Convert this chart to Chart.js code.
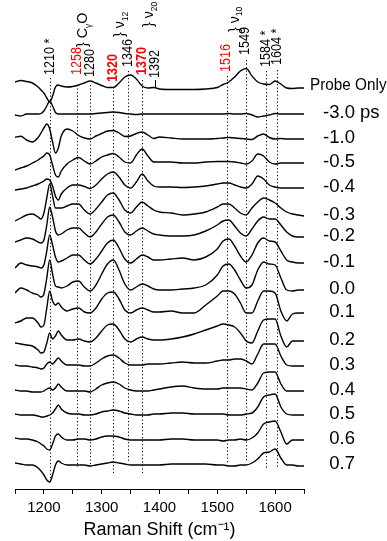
<!DOCTYPE html>
<html>
<head>
<meta charset="utf-8">
<script src="https://cdn.jsdelivr.net/npm/chart.js@4.4.1/dist/chart.umd.min.js"></script>
<style>
  html, body { margin: 0; padding: 0; background: #fff; }
  canvas { display: block; }
</style>
</head>
<body>
<canvas id="ramanChart" width="387" height="541"></canvas>
<script>
// Raman shift grid (cm-1)
const wavenumbers = [1150,1160,1170,1180,1190,1195,1200,1205,1210,1215,1220,1225,1230,
  1240,1250,1260,1270,1280,1290,1300,1310,1320,1330,1340,1350,1360,1370,1380,1390,1400,
  1420,1440,1460,1480,1500,
  1510,1520,1530,1540,1550,1560,1570,1580,1590,1600,1610,1620,1630,1640,1650];

// intensities (arb. units)
const probeOnly = [6,7.5,6.5,5,1,-2,-5,-10,-14,-8,1,3,2, 1,1.5,3,5,7,5,2.5,0.5,0.5,5,11,13,9,2,0,0.5,-1, -1.5,-1.5,-1.5,-1,0.5, 3.5,6,11,17,19.5,12,6,4,3.5,7,4,0,-0.5,0,0];
const d_m3_0 = [-1,-2,0,0,0,0.5,3,8,13,8,1.5,0,0, 0,0,0,0,0,0.5,1,1.5,2,1.5,0.5,0,-0.5,0,0,0,0, 0,0,0,0,0, 0,0.5,0,0,0.5,-1,-3,-2,-1,0.5,0,0,0,0,0];
const d_m1_0 = [1.7,2.7,-1,-3,1.5,6,11,15,10,-3,-14,-9,3, 10,8,3.5,1,0,3,5.5,8,8.5,6,2.5,3,5.5,7,4,0.5,2, 1,0,0,0,0.5, 1,1.5,1,0.5,0,-0.5,3,5,1.5,0,0.5,0,0,0,0];
const d_m0_5 = [-7,-5,-3,0,3,5,7,10,8,-2,-12,-14,-8, -1,3,5.5,2,-1,2,6,8,9.5,6,1,0,8,14,7,1,1, 1,0,0,1,1.5, 1.5,1.5,1,0,-1,2,9,7,1,-1,0,0,0,0,0];
const d_m0_4 = [-2,-1,0,2,4,5.5,7,9,8,2,-8,-12,-6, 0,3,3,1.5,-0.5,3,9,14,16,11,3,0,6,14,7,2,1, 1,0.5,1,2,4, 5,5,3,1,0,4,12,9,3,1,0,0,0,0,0];
const d_m0_3 = [-5,-2,1,2,-1,-3,3,18,32,20,8,8,8, 10,12,12,6,2,7,14,21,23,16,6,3,9,14,10,6,4, 3,1,2,4,9, 12,12,8,3,1,8,14,18,16,13,8,4,2,1,0];
const d_m0_2 = [-5,-3,-1,-2,-5,-6,-3,12,30,20,6,2,3, 7,9,9,4,0,5,13,20,22,15,5,2,6,9,6,3,2, 1,1,2,6,12, 16,17,11,4,1,8,16,20,18,18,12,5,1,0,0];
const d_m0_1 = [-5,0,-2,-3,-4,-5,-2,12,28,18,6,1,2, 5,8,8,3,-1,4,12,20,23,15,4,0,4,8,6,3,3, 4,5,3,6,14, 22,24,17,7,1,8,20,25,22,21,12,3,1,0,0];
const d_0_0 = [-3,2,0,-3,-5,-7,-4,12,30,16,4,3,2, 4,8,9,3,-1,5,16,26,30,20,6,0,3,6,4,1,0, 0,1,2,5,15, 24,26,20,10,2,5,20,28,26,25,12,0,-1,0,0];
const d_0_1 = [-10,-8,-5,-5,-10,-14,-12,5,22,12,8,10,6, 2,4,5,1,0,5,14,20,21,14,3,0,3,5,3,1,1, 2,0,0,8,17, 22,22,19,10,0,0,12,22,22,20,2,-8,-1,0,0];
const d_0_2 = [-2,-3,-4,-5,-9,-12,-11,-2,8,2,5,10,6, 1,1,2,0,-1,3,10,16,17,11,2,-1,2,4,2,1,1, 2,4,7,11,15, 17,16,14,8,0,-2,10,21,22,22,5,-6,0,0,0];
const d_0_3 = [1,0,0,-1,-2,-3,-2,2,4,2,5,8,5, 1,1,1,0,0,3,7,10,11,8,3,1,1,1,2,2,2, 3,4,3,3,5, 6,6,7,7,5,2,12,22,22,22,10,1,0,0,0];
const d_0_4 = [1,0,0,-1,-1,-1,0,2,3,1,3,7,4, 0,0,0,0,-1,2,6,8,9,7,3,1,0,0,0,1,2, 4,5,3,2,2, 3,3,3,3,2,1,8,18,19,19,7,0,0,0,0];
const d_0_5 = [1,0,0,0,-1,-2,-2,-1,0,2,6,10,6, 2,1,1,0,0,1,3,4,5,4,2,1,0,0,0,1,1, 2,2,1,1,1, 1,0,0,0,1,2,8,18,20,21,8,1,0,0,0];
const d_0_6 = [2,1,1,0,-2,-4,-6,-9,-10,-4,4,6,3, 0,0,1,1,0,1,3,4,4,3,1,0,0,0,0,0,0, 1,1,0,0,0, -1,0,0,1,0,2,7,16,18,19,8,-4,0,0,0];
const d_0_7 = [2,1,0,0,-3,-6,-10,-15,-17,-10,0,4,2, 0,0,0,0,-1,0,1,2,3,2,1,0,0,0,0,0,0, 1,1,1,1,0, 0,-1,-1,0,0,2,6,12,13,16,7,0,0,-1,-1];

const spectra = [probeOnly, d_m3_0, d_m1_0, d_m0_5, d_m0_4, d_m0_3, d_m0_2, d_m0_1,
  d_0_0, d_0_1, d_0_2, d_0_3, d_0_4, d_0_5, d_0_6, d_0_7];
const delayLabels = ['Probe Only','-3.0','-1.0','-0.5','-0.4','-0.3','-0.2','-0.1',
  '0.0','0.1','0.2','0.3','0.4','0.5','0.6','0.7'];
// vertical stacking offset of each trace
const offsets = [401,375,350,326,301,273,252,226,199,176,148,123,98,74,49,24];

// band markers
const bandPositions = [1210,1258,1280,1320,1346,1370,1392,1516,1549,1584,1604];
const bandLabels = ['1210 *','1258','1280','1320','1346','1370','1392','1516','1549','1584 *','1604 *'];
const bandRed = [false,true,false,true,false,true,false,true,false,false,false];
const bandBold = [false,false,false,true,false,true,false,false,false,false,false];

const FONT = 'Liberation Sans, Arial, sans-serif';

// where the rotated labels start and the dotted guides run (pixels)
const bandLayout = [
  {base: 75, top: 78, bot: 478},
  {base: 75, top: 85, bot: 467},
  {base: 77, top: 85, bot: 467},
  {base: 82, top: 87, bot: 473},
  {base: 67, top: 71, bot: 462},
  {base: 75, top: 80, bot: 473},
  {base: 78, tick: [80, 88]},
  {base: 72, top: 76, bot: 463},
  {base: 55, top: 60, bot: 462},
  {base: 67, top: 71, bot: 468},
  {base: 65, top: 70, bot: 467}
];

const groups = [
  {at: 1268, base: 47, name: 'C', sub: 'γ', tail: 'O'},
  {at: 1332, base: 37, name: 'ν', sub: '12', tail: ''},
  {at: 1382, base: 27, name: 'ν', sub: '20', tail: ''},
  {at: 1530, base: 32, name: 'ν', sub: '10', tail: ''}
];

function upText(ctx, parts, px, yBottom, sx) {
  ctx.save();
  ctx.translate(px, yBottom);
  ctx.rotate(-Math.PI / 2);
  ctx.scale(sx, 1);
  ctx.textAlign = 'left';
  ctx.textBaseline = 'middle';
  let cx = 0;
  parts.forEach(p => {
    ctx.font = p.font;
    ctx.fillStyle = p.color || '#000';
    ctx.fillText(p.t, cx, p.dy || 0);
    cx += ctx.measureText(p.t).width;
  });
  ctx.restore();
}

const annotate = {
  id: 'annotate',
  beforeDatasetsDraw(chart) {
    const ctx = chart.ctx, x = chart.scales.x;
    ctx.save();
    ctx.strokeStyle = '#000';
    ctx.lineWidth = 1;
    bandPositions.forEach((b, i) => {
      const L = bandLayout[i];
      const px = Math.round(x.getPixelForValue(b)) + 0.5;
      ctx.beginPath();
      if (L.tick) {
        ctx.setLineDash([]);
        ctx.moveTo(px, L.tick[0]); ctx.lineTo(px, L.tick[1]);
      } else {
        ctx.setLineDash([1.2, 2.3]);
        ctx.moveTo(px, L.top); ctx.lineTo(px, L.bot);
      }
      ctx.stroke();
    });
    ctx.restore();
  },
  afterDraw(chart) {
    const ctx = chart.ctx, x = chart.scales.x, y = chart.scales.y;
    // band numbers
    bandPositions.forEach((b, i) => {
      const f = (bandBold[i] ? 'bold ' : '') + '14px ' + FONT;
      upText(ctx, [{t: bandLabels[i], font: f, color: bandRed[i] ? '#ff0000' : '#000'}],
        x.getPixelForValue(b), bandLayout[i].base, 0.9);
    });
    // braces with mode names
    groups.forEach(g => {
      const parts = [
        {t: '} ', font: '15px ' + FONT},
        {t: g.name, font: '15px ' + FONT},
        {t: g.sub, font: '9px ' + FONT, dy: 5}
      ];
      if (g.tail) parts.push({t: g.tail, font: '15px ' + FONT});
      upText(ctx, parts, x.getPixelForValue(g.at), g.base, 0.95);
    });
    // delay labels
    ctx.save();
    ctx.fillStyle = '#000';
    ctx.textBaseline = 'middle';
    delayLabels.forEach((lab, i) => {
      const py = y.getPixelForValue(offsets[i]) - 1;
      if (i === 0) {
        ctx.save();
        ctx.font = '17px ' + FONT;
        ctx.translate(310, py - 2);
        ctx.scale(0.9, 1);
        ctx.textAlign = 'left';
        ctx.fillText(lab, 0, 0);
        ctx.restore();
        return;
      }
      ctx.font = '18.5px ' + FONT;
      ctx.textAlign = 'right';
      ctx.fillText(lab, 355, py);
      if (i === 1) {
        ctx.textAlign = 'left';
        ctx.fillText('ps', 360, py);
      }
    });
    ctx.restore();
  }
};

const datasets = spectra.map((vals, i) => ({
  label: delayLabels[i],
  data: wavenumbers.map((w, j) => ({x: w, y: vals[j] + offsets[i]})),
  borderColor: '#000',
  borderWidth: 1.4,
  pointRadius: 0,
  fill: false,
  cubicInterpolationMode: 'monotone'
}));

new Chart(document.getElementById('ramanChart').getContext('2d'), {
  type: 'line',
  data: {datasets: datasets},
  options: {
    responsive: false,
    animation: false,
    devicePixelRatio: 1,
    layout: {padding: {left: 15, right: 83, top: 0, bottom: 0}},
    plugins: {legend: {display: false}, tooltip: {enabled: false}},
    scales: {
      x: {
        type: 'linear',
        min: 1150,
        max: 1650,
        afterFit: function(scale) { scale.height = 52; },
        border: {display: true, color: '#000', width: 1},
        grid: {drawOnChartArea: false, drawTicks: true, tickLength: 5, color: '#000'},
        ticks: {
          stepSize: 50,
          padding: 5,
          color: '#000',
          font: {family: FONT, size: 15},
          maxRotation: 0,
          autoSkip: false,
          callback: v => (v % 100 === 0 ? v : '')
        },
        title: {
          display: true,
          text: 'Raman Shift (cm⁻¹)',
          color: '#000',
          font: {family: FONT, size: 18},
          padding: {top: 0, bottom: 0}
        }
      },
      y: {type: 'linear', min: 0, max: 489, display: false}
    }
  },
  plugins: [annotate]
});
</script>
</body>
</html>
